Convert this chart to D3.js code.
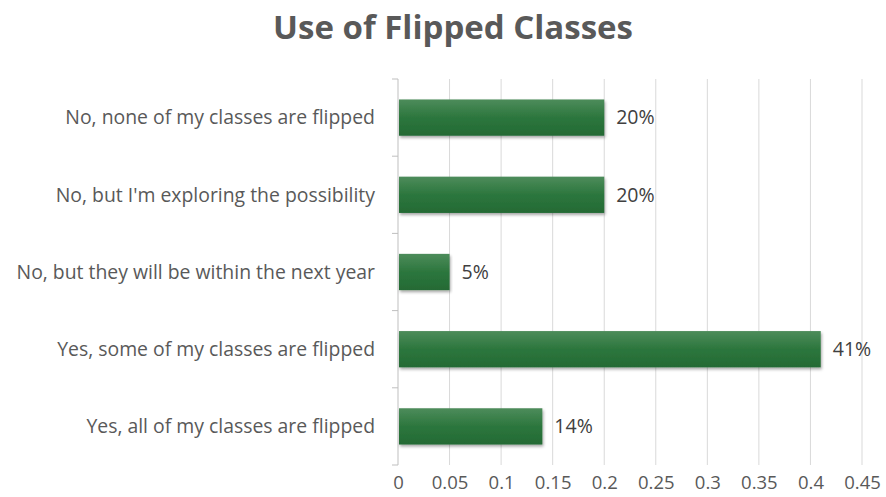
<!DOCTYPE html>
<html>
<head>
<meta charset="utf-8">
<script src="https://cdn.jsdelivr.net/npm/d3@7"></script>
<style>
  body { margin: 0; background: #fff; }
  svg { font-family: "Open Sans", sans-serif; }
</style>
</head>
<body>
<svg id="chart" width="886" height="497"></svg>
<script>
// chart data
var categories = [
    "No, none of my classes are flipped",
    "No, but I'm exploring the possibility",
    "No, but they will be within the next year",
    "Yes, some of my classes are flipped",
    "Yes, all of my classes are flipped"
];
var values = [0.20, 0.20, 0.05, 0.41, 0.14];
var labels = ["20%", "20%", "5%", "41%", "14%"];
var xTicks = [0, 0.05, 0.1, 0.15, 0.2, 0.25, 0.3, 0.35, 0.4, 0.45];
var title = "Use of Flipped Classes";

var svg = d3.select("#chart");
var margin = {top: 79, left: 398};

// bar gradient + shadow
var defs = svg.append("defs");
var grad = defs.append("linearGradient")
    .attr("id", "barGrad")
    .attr("x1", 0).attr("y1", 0).attr("x2", 0).attr("y2", 1);
grad.append("stop").attr("offset", "0%").attr("stop-color", "#4d8c5b");
grad.append("stop").attr("offset", "50%").attr("stop-color", "#2c763d");
grad.append("stop").attr("offset", "100%").attr("stop-color", "#246a34");
var shadow = defs.append("filter").attr("id", "shadow")
    .attr("x", "-5%").attr("y", "-20%").attr("width", "110%").attr("height", "150%");
shadow.append("feDropShadow")
    .attr("dx", 1).attr("dy", 2).attr("stdDeviation", 1.5)
    .attr("flood-color", "#000").attr("flood-opacity", 0.35);

svg.append("text")
    .attr("x", 453)
    .attr("y", 39)
    .attr("text-anchor", "middle")
    .attr("font-size", 33)
    .attr("font-weight", "bold")
    .attr("fill", "#595959")
    .text(title);

var g = svg.append("g")
    .attr("transform", "translate(" + margin.left + "," + margin.top + ")");

var x = d3.scaleLinear().domain([0, 0.45]).range([0, 464]);
var y = d3.scaleBand().domain(d3.range(categories.length)).range([0, 386]).paddingInner(0.53).paddingOuter(0.265);

// grid lines
g.selectAll(".grid-line-x")
    .data(xTicks.slice(1))
    .enter()
    .append("line")
    .attr("class", "grid-line-x")
    .attr("x1", d => x(d))
    .attr("x2", d => x(d))
    .attr("y1", 0)
    .attr("y2", 386)
    .attr("stroke", "#d9d9d9")
    .attr("stroke-width", 1);

// x axis labels (no line)
var xaxis = d3.axisBottom(x)
    .tickValues(xTicks)
    .tickSize(0)
    .tickPadding(0)
    .tickFormat(d => d3.format("~g")(d));
var xaxisG = g.append("g")
    .attr("transform", "translate(0,397)")
    .call(xaxis);
xaxisG.select(".domain").remove();
xaxisG.selectAll("text")
    .attr("font-size", 18.5)
    .attr("fill", "#595959")
    .attr("font-family", "Open Sans, sans-serif");

// y axis line with ticks at band boundaries
var yBounds = d3.range(categories.length + 1).map(i => i * 386 / categories.length);
g.append("line")
    .attr("x1", 0).attr("x2", 0)
    .attr("y1", 0).attr("y2", 386)
    .attr("stroke", "#bfbfbf");
g.selectAll(".ytick")
    .data(yBounds)
    .enter()
    .append("line")
    .attr("class", "ytick")
    .attr("x1", -6).attr("x2", 0)
    .attr("y1", d => d).attr("y2", d => d)
    .attr("stroke", "#bfbfbf");

// category labels
g.selectAll(".cat-label")
    .data(categories)
    .enter()
    .append("text")
    .attr("class", "cat-label")
    .attr("x", -23)
    .attr("y", (d, i) => y(i) + y.bandwidth() / 2)
    .attr("dy", "0.35em")
    .attr("text-anchor", "end")
    .attr("font-size", 19.4)
    .attr("fill", "#595959")
    .text(d => d);

// bars
g.selectAll(".bar")
    .data(values)
    .enter()
    .append("rect")
    .attr("class", "bar")
    .attr("x", 1)
    .attr("y", (d, i) => y(i))
    .attr("width", d => x(d) - 1)
    .attr("height", y.bandwidth())
    .attr("fill", "url(#barGrad)")
    .attr("filter", "url(#shadow)");

// value labels
g.selectAll(".val-label")
    .data(values)
    .enter()
    .append("text")
    .attr("class", "val-label")
    .attr("x", d => x(d) + 12)
    .attr("y", (d, i) => y(i) + y.bandwidth() / 2)
    .attr("dy", "0.35em")
    .attr("font-size", 19.5)
    .attr("fill", "#404040")
    .text((d, i) => labels[i]);
</script>
</body>
</html>
